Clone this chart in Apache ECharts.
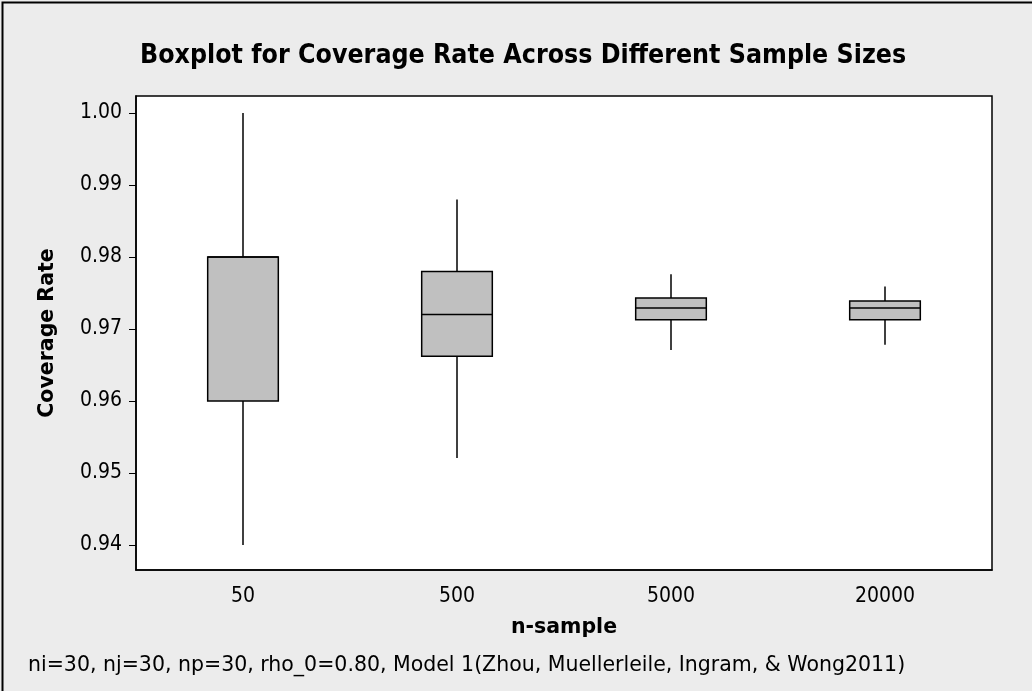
<!DOCTYPE html>
<html>
<head>
<meta charset="utf-8">
<script src="https://cdn.jsdelivr.net/npm/echarts@6/dist/echarts.min.js"></script>
<style>
  html, body { margin: 0; padding: 0; background: #ececec; }
  #chart { width: 1032px; height: 691px; }
</style>
</head>
<body>
<div id="chart"></div>
<script>
// sample sizes on the x axis
var categories = ['50', '500', '5000', '20000']
// box stats: min, q1, median, q3, max
var whiskerLow = [0.9400, 0.9521, 0.9671, 0.9678]
var q1 = [0.9600, 0.9662, 0.9713, 0.9713]
var median = [0.9800, 0.9720, 0.9729, 0.9729]
var q3 = [0.9800, 0.9780, 0.9743, 0.9739]
var whiskerHigh = [1.0000, 0.9880, 0.9776, 0.9759]
var yTicks = [0.94, 0.95, 0.96, 0.97, 0.98, 0.99, 1.00]

var COND = 'DejaVu Sans Condensed'
var WIDE = 'DejaVu Sans'

var boxData = categories.map(function (c, i) {
  return [i, whiskerLow[i], q1[i], median[i], q3[i], whiskerHigh[i]]
})

function renderBox (params, api) {
  var x = api.value(0)
  var pLow = api.coord([x, api.value(1)])
  var pQ1 = api.coord([x, api.value(2)])
  var pMed = api.coord([x, api.value(3)])
  var pQ3 = api.coord([x, api.value(4)])
  var pHigh = api.coord([x, api.value(5)])
  var half = api.size([1, 0])[0] * 0.165
  var cx = pLow[0]
  var line = {stroke: '#000', lineWidth: 1.5}
  return {
    type: 'group',
    children: [
      {type: 'line', shape: {x1: cx, y1: pLow[1], x2: cx, y2: pQ1[1]}, style: line},
      {type: 'line', shape: {x1: cx, y1: pQ3[1], x2: cx, y2: pHigh[1]}, style: line},
      {
        type: 'rect',
        shape: {x: cx - half, y: pQ3[1], width: half * 2, height: pQ1[1] - pQ3[1]},
        style: {fill: '#c0c0c0', stroke: '#000', lineWidth: 1.5}
      },
      {type: 'line', shape: {x1: cx - half, y1: pMed[1], x2: cx + half, y2: pMed[1]}, style: line}
    ]
  }
}

var chart = echarts.init(document.getElementById('chart'))
var option = {
  backgroundColor: '#ececec',
  animation: false,
  title: {
    text: 'Boxplot for Coverage Rate Across Different Sample Sizes',
    left: 135,
    top: 38,
    textStyle: {fontFamily: COND, fontWeight: 'bold', fontSize: 26.5, color: '#000'}
  },
  grid: {
    left: 136,
    right: 40,
    top: 96,
    bottom: 121,
    show: true,
    backgroundColor: '#fff',
    borderColor: '#000',
    borderWidth: 1.5
  },
  xAxis: {
    type: 'category',
    data: categories,
    name: 'n-sample',
    nameLocation: 'middle',
    nameGap: 47,
    nameTextStyle: {fontFamily: WIDE, fontWeight: 'bold', fontSize: 20.5, color: '#000'},
    axisLine: {lineStyle: {color: '#000', width: 1.5}},
    axisTick: {alignWithLabel: true, length: 8, lineStyle: {color: '#000'}},
    axisLabel: {fontFamily: COND, fontSize: 21, color: '#000', margin: 16},
    splitLine: {show: false}
  },
  yAxis: {
    type: 'value',
    min: 0.93653,
    max: 1.00236,
    name: 'Coverage Rate',
    nameLocation: 'middle',
    nameGap: 78,
    nameTextStyle: {fontFamily: WIDE, fontWeight: 'bold', fontSize: 20.5, color: '#000'},
    axisLine: {show: true, lineStyle: {color: '#000', width: 1.5}},
    axisTick: {show: true, length: 7, customValues: yTicks, lineStyle: {color: '#000'}},
    axisLabel: {
      fontFamily: COND,
      fontSize: 21,
      color: '#000',
      margin: 14,
      customValues: yTicks,
      formatter: function (v) { return v.toFixed(2) }
    },
    splitLine: {show: false}
  },
  graphic: [
    {
      type: 'rect',
      left: 0,
      top: 0,
      shape: {width: 1031, height: 690},
      style: {fill: 'none', stroke: '#000', lineWidth: 2}
    },
    {
      type: 'text',
      left: 28,
      top: 655,
      style: {
        text: 'ni=30, nj=30, np=30, rho_0=0.80, Model 1(Zhou, Muellerleile, Ingram, & Wong2011)',
        font: '20.5px "' + WIDE + '"',
        fill: '#000'
      }
    }
  ],
  series: [
    {
      type: 'custom',
      renderItem: renderBox,
      data: boxData,
      encode: {x: 0, y: [1, 2, 3, 4, 5]}
    }
  ]
}
chart.setOption(option, true)
</script>
</body>
</html>
